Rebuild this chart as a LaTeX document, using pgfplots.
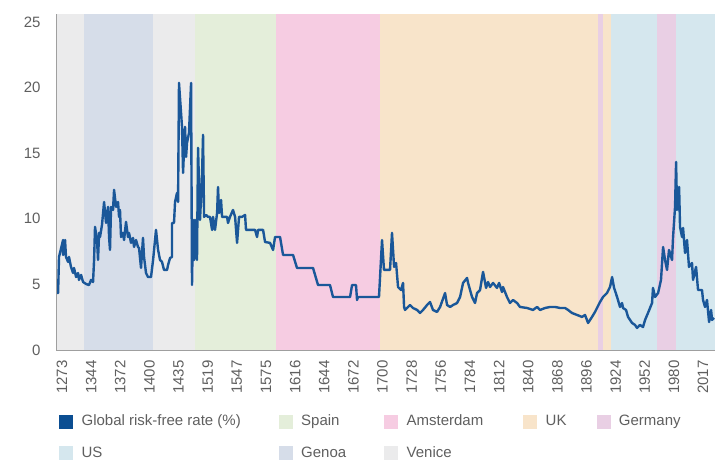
\documentclass[border=0pt]{standalone}
\usepackage{pgfplots}
\pgfplotsset{compat=1.18}
\usepackage{fontspec}
\setmainfont{Liberation Sans}
\definecolor{venice}{HTML}{EBEBEC}
\definecolor{genoa}{HTML}{D6DDE9}
\definecolor{spain}{HTML}{E4EEDA}
\definecolor{amst}{HTML}{F6CCE2}
\definecolor{uk}{HTML}{F8E4CA}
\definecolor{germ}{HTML}{E9CFE4}
\definecolor{us}{HTML}{D5E7EE}
\definecolor{rate}{HTML}{1A5799}
\definecolor{legrate}{HTML}{0B4E92}
\definecolor{txt}{HTML}{5F5F5F}
\pgfplotsset{sqleg/.style={legend image code/.code={\fill[#1] (0pt,-6.5pt) rectangle (13pt,6.5pt);}}}
\begin{document}
\begin{tikzpicture}
\useasboundingbox (0pt,0pt) rectangle (718pt,459pt);
\begin{axis}[
 at={(56pt,109pt)}, anchor=south west,
 width=659pt, height=336pt, scale only axis,
 xmin=-5.8, xmax=627.5, ymin=0, ymax=25.6,
 axis x line=bottom, axis y line=left,
 axis line style={draw=gray!75, line width=1pt, -},
 axis on top,
 major tick length=0pt, tick style={draw=none},
 ytick={0,5,10,15,20,25},
 xtick={0,28,...,616},
 xticklabels={1273,1344,1372,1400,1435,1519,1547,1575,1616,1644,1672,1700,1728,1756,1784,1812,1840,1868,1896,1924,1952,1980,2017},
 xticklabel style={rotate=90, anchor=east},
 xticklabel shift=7pt, yticklabel shift=12pt,
 ticklabel style={font=\fontsize{15}{18}\selectfont, text=txt},
 /pgf/number format/assume math mode=true,
 legend columns=5,
 legend cell align=left,
 legend style={at={(0,-0.181)}, anchor=north west, draw=none, fill=none,
   font=\fontsize{15}{18}\selectfont, text=txt, row sep=15pt,
   /tikz/every odd column/.append style={column sep=7pt},
   /tikz/column 2/.style={column sep=36pt},
   /tikz/column 4/.style={column sep=36pt},
   /tikz/column 6/.style={column sep=38pt},
   /tikz/column 8/.style={column sep=28pt}},
]
% bands
\addplot[fill=venice, draw=none, forget plot] coordinates {(-5.8,25.6) (21.1,25.6)} \closedcycle;
\addplot[fill=genoa, draw=none, forget plot] coordinates {(21.1,25.6) (87.5,25.6)} \closedcycle;
\addplot[fill=venice, draw=none, forget plot] coordinates {(87.5,25.6) (127.8,25.6)} \closedcycle;
\addplot[fill=spain, draw=none, forget plot] coordinates {(127.8,25.6) (205.7,25.6)} \closedcycle;
\addplot[fill=amst, draw=none, forget plot] coordinates {(205.7,25.6) (305.6,25.6)} \closedcycle;
\addplot[fill=uk, draw=none, forget plot] coordinates {(305.6,25.6) (515.1,25.6)} \closedcycle;
\addplot[fill=germ, draw=none, forget plot] coordinates {(515.1,25.6) (519.9,25.6)} \closedcycle;
\addplot[fill=uk, draw=none, forget plot] coordinates {(519.9,25.6) (527.6,25.6)} \closedcycle;
\addplot[fill=us, draw=none, forget plot] coordinates {(527.6,25.6) (571.8,25.6)} \closedcycle;
\addplot[fill=germ, draw=none, forget plot] coordinates {(571.8,25.6) (590.1,25.6)} \closedcycle;
\addplot[fill=us, draw=none, forget plot] coordinates {(590.1,25.6) (627.5,25.6)} \closedcycle;
% rate
\addplot[rate, line width=2.4pt, line join=round, forget plot] coordinates {
(-4.8,4.34) (-3.8,4.34) (-2.9,7.09) (1.0,8.38) (1.0,7.24) (2.9,8.38) (3.8,7.09) (5.8,6.71) (6.7,7.09) (8.6,6.33) (10.6,5.87) (11.5,6.25) (13.5,5.56) (15.4,5.87) (16.3,5.34) (18.3,5.72) (20.2,5.18) (23.1,5.03) (25.9,4.95) (27.9,5.34) (29.8,5.18) (30.8,6.86) (31.7,9.38) (33.6,8.38) (34.6,6.86) (35.6,8.92) (36.5,8.61) (38.4,9.53) (40.4,11.28) (42.3,9.68) (44.2,10.9) (45.2,8.61) (46.1,7.62) (47.1,10.9) (49.0,10.67) (50.0,12.2) (51.9,10.9) (53.8,11.28) (54.8,10.14) (55.7,10.67) (56.7,8.61) (58.6,8.92) (59.6,8.38) (61.5,9.76) (63.4,8.61) (64.4,8.92) (66.3,8.16) (68.2,8.54) (69.2,7.85) (71.1,8.38) (73.0,7.85) (74.0,7.77) (75.9,6.25) (77.8,8.54) (78.8,7.09) (80.7,5.87) (82.6,5.56) (85.5,5.56) (87.5,6.86) (90.3,9.15) (92.3,7.62) (94.2,6.86) (96.1,6.71) (98.0,6.1) (100.9,6.1) (101.9,6.48) (103.8,7.01) (105.7,7.09) (105.7,9.68) (107.6,9.68) (108.6,11.28) (110.5,11.97) (111.5,11.28) (112.4,20.35) (115.3,17.0) (116.3,13.49) (118.2,17.0) (119.2,14.71) (120.1,15.78) (122.0,16.54) (124.0,20.35) (124.9,4.95) (125.9,9.91) (126.9,6.86) (127.8,9.91) (129.7,6.86) (130.7,15.4) (132.6,9.91) (134.5,13.19) (135.5,16.39) (136.5,10.14) (138.4,10.29) (140.3,10.14) (142.2,10.14) (144.2,9.15) (145.1,10.14) (147.0,9.15) (149.0,10.44) (149.9,12.42) (150.9,10.44) (152.8,11.43) (153.8,10.14) (155.7,10.14) (158.6,10.14) (159.5,9.68) (161.4,10.14) (164.3,10.67) (166.3,10.14) (168.2,8.16) (170.1,10.14) (173.0,10.14) (175.9,10.29) (176.8,9.15) (180.7,9.15) (185.5,9.15) (187.4,8.61) (188.4,9.15) (193.2,9.15) (195.1,8.23) (199.9,8.16) (202.8,7.62) (204.7,8.61) (209.5,8.61) (212.4,7.24) (222.0,7.24) (225.8,6.25) (241.2,6.25) (246.0,4.95) (257.5,4.95) (260.4,4.04) (276.8,4.04) (278.7,4.95) (282.5,4.95) (283.5,3.81) (284.5,4.04) (304.6,4.04) (307.5,8.38) (309.4,6.1) (315.2,6.1) (317.1,8.92) (319.1,6.33) (321.0,6.63) (322.9,4.8) (325.8,4.57) (327.7,5.11) (328.7,3.28) (329.6,3.05) (334.4,3.43) (337.3,3.2) (341.2,3.05) (344.0,2.82) (346.9,3.05) (350.8,3.43) (353.6,3.66) (356.5,3.05) (360.4,2.9) (363.3,3.28) (368.1,4.34) (370.0,3.43) (372.9,3.28) (375.8,3.43) (379.6,3.58) (382.5,4.04) (385.4,5.11) (389.2,5.49) (390.2,5.11) (394.0,4.04) (396.9,3.58) (398.8,4.34) (401.7,4.57) (404.6,5.95) (407.5,4.73) (409.4,5.18) (411.3,4.8) (414.2,5.11) (418.0,4.73) (420.0,5.11) (422.8,4.42) (423.8,4.8) (427.6,4.04) (430.5,3.58) (433.4,3.81) (437.3,3.58) (440.1,3.28) (446.9,3.2) (452.6,3.05) (456.5,3.28) (459.3,3.05) (464.2,3.2) (469.0,3.28) (473.8,3.28) (478.6,3.2) (483.4,3.2) (486.3,3.05) (490.1,2.82) (494.9,2.67) (499.7,2.52) (502.6,2.67) (505.5,2.06) (509.3,2.52) (512.2,2.9) (517.0,3.66) (519.9,4.04) (523.7,4.34) (526.6,4.8) (528.6,5.56) (530.5,4.73) (533.4,4.04) (536.2,3.28) (538.2,3.58) (539.1,3.2) (542.0,3.05) (543.9,2.52) (547.8,2.06) (550.6,1.91) (552.6,1.68) (555.4,1.91) (558.3,1.75) (560.3,2.29) (563.1,2.82) (567.0,3.58) (567.9,4.73) (569.9,4.04) (572.8,4.34) (575.6,5.34) (577.6,7.85) (579.5,6.86) (581.4,6.1) (583.3,7.62) (586.2,6.86) (587.2,8.61) (589.1,10.9) (590.1,14.33) (591.0,10.67) (593.0,12.42) (593.9,9.38) (595.8,8.61) (596.8,9.3) (598.7,7.39) (600.6,8.38) (602.5,6.33) (605.4,6.63) (606.4,5.34) (609.3,6.33) (611.2,4.57) (615.0,4.57) (616.0,3.81) (617.9,3.28) (619.8,3.81) (621.8,2.13) (623.7,3.05) (624.7,2.29) (626.6,2.44)
};
% legend
\addlegendimage{sqleg=legrate}\addlegendentry{Global risk-free rate (\%)}
\addlegendimage{sqleg=spain}\addlegendentry{Spain}
\addlegendimage{sqleg=amst}\addlegendentry{Amsterdam}
\addlegendimage{sqleg=uk}\addlegendentry{UK}
\addlegendimage{sqleg=germ}\addlegendentry{Germany}
\addlegendimage{sqleg=us}\addlegendentry{US}
\addlegendimage{sqleg=genoa}\addlegendentry{Genoa}
\addlegendimage{sqleg=venice}\addlegendentry{Venice}
\end{axis}
\end{tikzpicture}
\end{document}
